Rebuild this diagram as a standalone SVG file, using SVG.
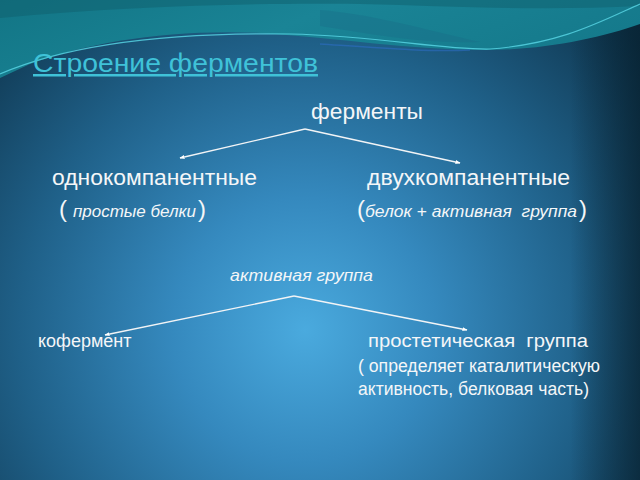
<svg xmlns="http://www.w3.org/2000/svg" width="640" height="480" viewBox="0 0 640 480">
<defs>
<radialGradient id="bg" cx="305" cy="330" r="440" gradientUnits="userSpaceOnUse">
<stop offset="0" stop-color="#4aaade"/>
<stop offset="0.3" stop-color="#3589be"/>
<stop offset="0.65" stop-color="#1f6088"/>
<stop offset="1" stop-color="#0e344c"/>
</radialGradient>
<linearGradient id="teal" x1="0" y1="0" x2="1" y2="0.3">
<stop offset="0" stop-color="#127585"/>
<stop offset="0.5" stop-color="#1a8496"/>
<stop offset="1" stop-color="#157a8c"/>
</linearGradient>
<linearGradient id="edge" x1="0" y1="0" x2="1" y2="0">
<stop offset="0" stop-color="#07202e" stop-opacity="0"/>
<stop offset="1" stop-color="#07202e" stop-opacity="0.7"/>
</linearGradient>
<marker id="ah" viewBox="0 0 10 10" refX="9" refY="5" markerWidth="5" markerHeight="5" orient="auto" markerUnits="userSpaceOnUse">
<path d="M0,1 L10,5 L0,9 Z" fill="#ffffff"/>
</marker>
<style>
.t{font-family:"Liberation Sans",Arial,sans-serif;fill:#f4f6f8}
.i{font-style:italic}
.c{fill:none;stroke:#f2f4f6;stroke-width:1.3;marker-end:url(#ah)}
</style>
</defs>
<rect x="0" y="0" width="640" height="480" fill="url(#bg)"/>
<rect x="570" y="0" width="70" height="480" fill="url(#edge)"/>
<path d="M0,0 H640 V24 C600,38 545,50 485,50 C410,50 340,38 260,33 C170,29 90,42 30,64 L0,78 Z" fill="url(#teal)"/>
<path d="M320,10 C370,14 420,28 480,42 C420,44 370,34 320,26 Z" fill="#1a6a86" opacity="0.35"/>
<path d="M0,0 H640 V6 C560,10 480,8 400,5 C300,2 150,4 0,18 Z" fill="#0f5f6e" opacity="0.5"/>
<path d="M0,74 C60,48 150,32 290,34 C380,36 440,50 490,49 C560,44 600,22 640,4" fill="none" stroke="#56d2e2" stroke-width="1.2" opacity="0.85"/>
<path d="M320,44 C380,48 430,52 470,50" fill="none" stroke="#2f6fd0" stroke-width="1.5" opacity="0.5"/>

<g id="title">
<text class="t" x="33" y="72" font-size="25" textLength="285" lengthAdjust="spacingAndGlyphs" style="fill:#3fc2d8" text-decoration="underline">Строение ферментов</text>
</g>
<g id="enzymes">
<text class="t" x="311" y="119" font-size="22" textLength="112" lengthAdjust="spacingAndGlyphs">ферменты</text>
</g>
<g id="one-component">
<text class="t" x="52" y="185" font-size="22" textLength="205" lengthAdjust="spacingAndGlyphs">однокомпанентные</text>
<text class="t" x="59" y="217" font-size="24">(</text>
<text class="t i" x="73" y="217" font-size="17" textLength="123" lengthAdjust="spacingAndGlyphs">простые белки</text>
<text class="t" x="198" y="217" font-size="24">)</text>
</g>
<g id="two-component">
<text class="t" x="367" y="185" font-size="22" textLength="203" lengthAdjust="spacingAndGlyphs">двухкомпанентные</text>
<text class="t" x="357" y="217" font-size="24">(</text>
<text class="t i" x="365" y="217" font-size="17" textLength="212" lengthAdjust="spacingAndGlyphs" xml:space="preserve">белок + активная  группа</text>
<text class="t" x="579" y="217" font-size="24">)</text>
</g>
<g id="active-group">
<text class="t i" x="230" y="281" font-size="17" textLength="143" lengthAdjust="spacingAndGlyphs">активная группа</text>
</g>
<g id="coenzyme">
<text class="t" x="38" y="347" font-size="18">кофермент</text>
</g>
<g id="prosthetic">
<text class="t" x="368" y="347" font-size="18" textLength="220" lengthAdjust="spacingAndGlyphs" xml:space="preserve">простетическая  группа</text>
<text class="t" x="358" y="372" font-size="18" textLength="242" lengthAdjust="spacingAndGlyphs">( определяет каталитическую</text>
<text class="t" x="358" y="395" font-size="18" textLength="231" lengthAdjust="spacingAndGlyphs">активность, белковая часть)</text>
</g>
<g id="connectors">
<path class="c" d="M305,129 L180,158"/>
<path class="c" d="M305,129 L460,163"/>
<path class="c" d="M294,296 L105,335"/>
<path class="c" d="M294,296 L467,330"/>
</g>
</svg>
